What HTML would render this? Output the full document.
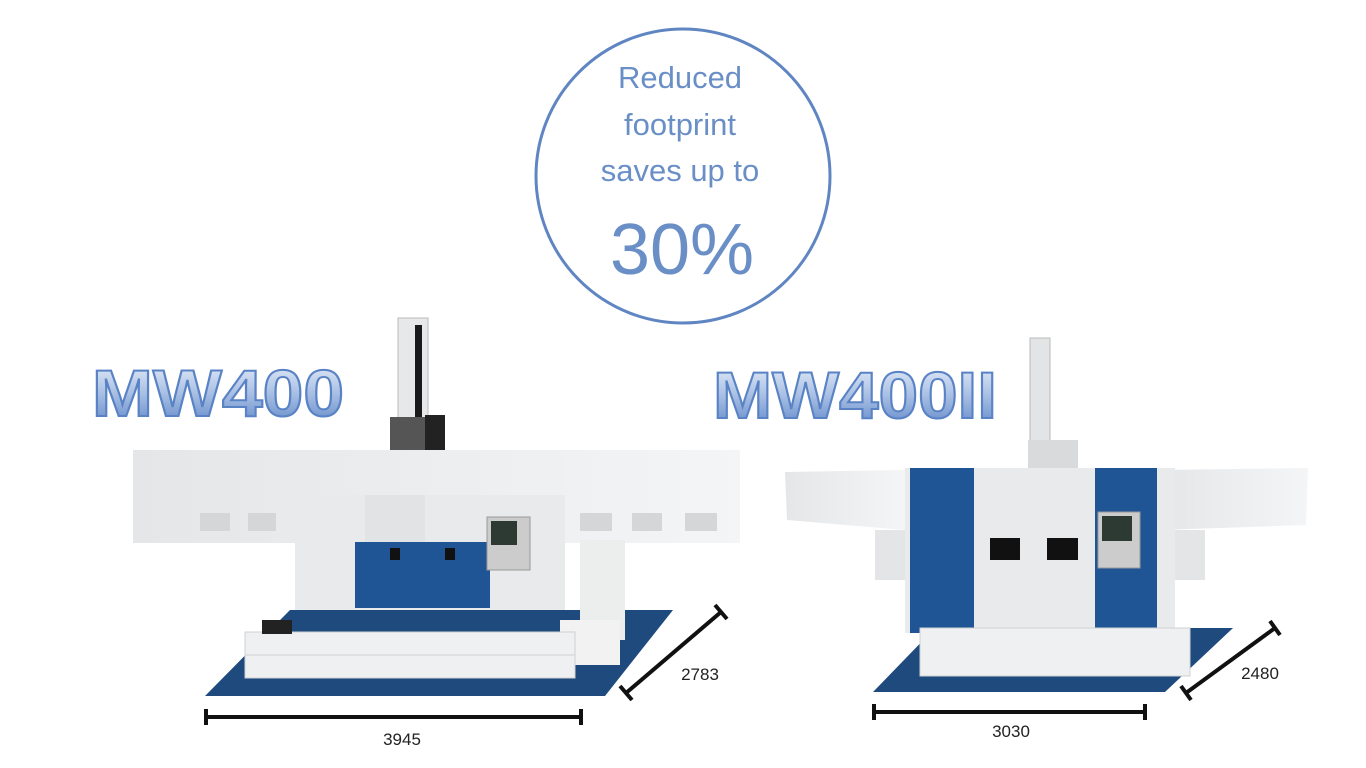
<!DOCTYPE html>
<html><head><meta charset="utf-8"><style>
html,body{margin:0;padding:0;background:#fff;}
svg{display:block;}
text{font-family:"Liberation Sans",sans-serif;}
</style></head><body>
<svg width="1366" height="768" viewBox="0 0 1366 768" xmlns="http://www.w3.org/2000/svg">
<defs>
<linearGradient id="lg" x1="0" y1="0" x2="0" y2="1">
<stop offset="0" stop-color="#eef3fb"/><stop offset="0.5" stop-color="#a9c0e4"/><stop offset="1" stop-color="#5a83c6"/>
</linearGradient>
<linearGradient id="bf" x1="0" y1="0" x2="1" y2="0">
<stop offset="0" stop-color="#e4e6e8"/><stop offset="1" stop-color="#f4f5f6"/>
</linearGradient>
</defs>
<rect width="1366" height="768" fill="#fff"/>

<!-- circle -->
<circle cx="683" cy="176" r="147" fill="none" stroke="#5f86c2" stroke-width="3"/>
<g fill="#6a8fc7" text-anchor="middle">
<text x="680" y="88" font-size="31">Reduced</text>
<text x="680" y="135" font-size="31">footprint</text>
<text x="680" y="181" font-size="31">saves up to</text>
<text x="682" y="274" font-size="72">30%</text>
</g>

<!-- logos -->
<text x="92" y="416" font-size="66" font-weight="bold" textLength="252" lengthAdjust="spacingAndGlyphs" fill="url(#lg)" stroke="#5a83c6" stroke-width="2">MW400</text>
<text x="713" y="418" font-size="66" font-weight="bold" textLength="284" lengthAdjust="spacingAndGlyphs" fill="url(#lg)" stroke="#5a83c6" stroke-width="2">MW400II</text>

<!-- LEFT MACHINE -->
<polygon points="205,696 605,696 673,610 290,610" fill="#1f4a7e"/>
<rect x="398" y="318" width="30" height="105" fill="#e6e8ea" stroke="#bbb"/>
<rect x="415" y="325" width="7" height="100" fill="#1a1a1a"/>
<rect x="390" y="417" width="35" height="35" fill="#555"/>
<rect x="425" y="415" width="20" height="35" fill="#222"/>
<rect x="133" y="450" width="607" height="93" fill="url(#bf)"/>
<g fill="#d4d6d8"><rect x="200" y="513" width="30" height="18"/><rect x="248" y="513" width="28" height="18"/><rect x="580" y="513" width="32" height="18"/><rect x="632" y="513" width="30" height="18"/><rect x="685" y="513" width="32" height="18"/><rect x="380" y="512" width="30" height="20"/><rect x="444" y="512" width="32" height="20"/></g>
<rect x="295" y="495" width="270" height="115" fill="#e9eaec"/>
<rect x="365" y="495" width="60" height="47" fill="#e2e3e5"/>
<rect x="355" y="542" width="135" height="66" fill="#1f5595"/>
<rect x="390" y="548" width="10" height="12" fill="#111"/><rect x="445" y="548" width="10" height="12" fill="#111"/>
<rect x="487" y="517" width="43" height="53" fill="#ccc" stroke="#999"/>
<rect x="491" y="521" width="26" height="24" fill="#2c3a33"/>
<rect x="580" y="540" width="45" height="100" fill="#eceded"/>
<rect x="560" y="620" width="60" height="45" fill="#f2f2f2"/>
<rect x="245" y="632" width="330" height="46" fill="#eef0f1" stroke="#cfd1d3"/>
<line x1="245" y1="655" x2="575" y2="655" stroke="#cfd1d3"/>
<rect x="262" y="620" width="30" height="14" fill="#222"/>

<!-- RIGHT MACHINE -->
<polygon points="873,692 1165,692 1233,628 935,628" fill="#1f4a7e"/>
<rect x="1030" y="338" width="20" height="115" fill="#e2e4e6" stroke="#bbb"/>
<rect x="1028" y="440" width="50" height="30" fill="#d8dadc"/>
<polygon points="785,472 905,470 905,530 787,520" fill="url(#bf)"/>
<polygon points="1160,470 1308,468 1306,525 1160,530" fill="url(#bf)"/>
<rect x="875" y="530" width="35" height="50" fill="#e4e5e6"/>
<rect x="1170" y="530" width="35" height="50" fill="#e4e5e6"/>
<rect x="905" y="468" width="270" height="165" fill="#e9eaec"/>
<rect x="910" y="468" width="64" height="165" fill="#1f5595"/>
<rect x="1095" y="468" width="62" height="165" fill="#1f5595"/>
<rect x="990" y="538" width="30" height="22" fill="#111"/>
<rect x="1047" y="538" width="31" height="22" fill="#111"/>
<rect x="1098" y="512" width="42" height="56" fill="#ccc" stroke="#999"/>
<rect x="1102" y="516" width="30" height="25" fill="#2c3a33"/>
<rect x="920" y="628" width="270" height="48" fill="#eff0f1" stroke="#cfd1d3"/>

<!-- dimension lines -->
<g stroke="#111" stroke-width="4" fill="none">
<line x1="206" y1="717" x2="581" y2="717"/><line x1="206" y1="709" x2="206" y2="725"/><line x1="581" y1="709" x2="581" y2="725"/>
<line x1="626" y1="693" x2="721" y2="612"/><line x1="620" y1="686" x2="632" y2="700"/><line x1="715" y1="605" x2="727" y2="619"/>
<line x1="874" y1="712" x2="1145" y2="712"/><line x1="874" y1="704" x2="874" y2="720"/><line x1="1145" y1="704" x2="1145" y2="720"/>
<line x1="1186" y1="693" x2="1275" y2="628"/><line x1="1181" y1="686" x2="1191" y2="700"/><line x1="1270" y1="621" x2="1280" y2="635"/>
</g>
<g fill="#222" font-size="17" text-anchor="middle">
<text x="402" y="745">3945</text>
<text x="700" y="680">2783</text>
<text x="1011" y="737">3030</text>
<text x="1260" y="679">2480</text>
</g>
</svg>
</body></html>
